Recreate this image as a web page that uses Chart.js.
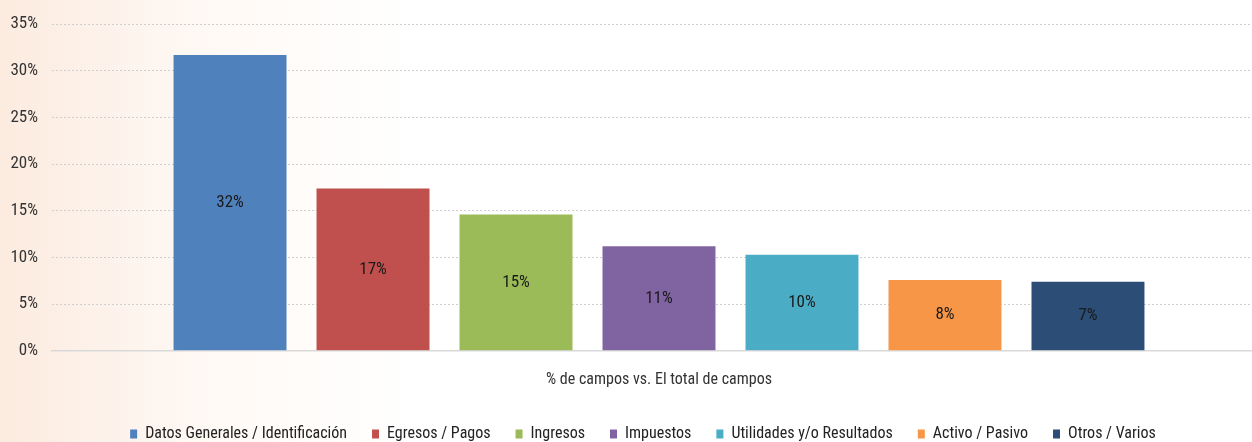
<!DOCTYPE html>
<html>
<head>
<meta charset="utf-8">
<script src="https://cdn.jsdelivr.net/npm/chart.js@4/dist/chart.umd.min.js"></script>
<style>
  html, body { margin: 0; padding: 0; overflow: hidden; }
  body { width: 1252px; height: 442px; background: linear-gradient(to right, #fcebdf 0px, #fdf3ec 120px, #fffaf6 220px, #ffffff 420px); }
  #wrap { position: relative; width: 1266px; height: 452px; }
</style>
</head>
<body>
<div id="wrap"><canvas id="chart"></canvas></div>
<script>
// Share of fields per group, measured against the total number of fields
const categories = ['% de campos vs. El total de campos'];
const groups = [
  'Datos Generales / Identificación',
  'Egresos / Pagos',
  'Ingresos',
  'Impuestos',
  'Utilidades y/o Resultados',
  'Activo / Pasivo',
  'Otros / Varios'
];
const shares = [31.7, 17.4, 14.6, 11.2, 10.3, 7.6, 7.4];
const colors = ['#4f81bd', '#c0504d', '#9bbb59', '#8064a2', '#4bacc6', '#f79646', '#2c4d75'];
const yTicks = [0, 5, 10, 15, 20, 25, 30, 35];

const FONT = '"Roboto Condensed", "Liberation Sans Narrow", sans-serif';

// Percentage written in the middle of each bar
const barLabels = {
  id: 'barLabels',
  afterDatasetsDraw(chart) {
    const ctx = chart.ctx;
    ctx.save();
    ctx.font = '17px ' + FONT;
    ctx.fillStyle = '#1a1a1a';
    ctx.textAlign = 'center';
    ctx.textBaseline = 'middle';
    chart.data.datasets.forEach((ds, i) => {
      const meta = chart.getDatasetMeta(i);
      meta.data.forEach((bar, j) => {
        const v = ds.data[j];
        ctx.fillText(Math.round(v) + '%', bar.x, (bar.y + bar.base) / 2);
      });
    });
    ctx.restore();
  }
};

// Nudge the legend row a little to the right of the canvas centre
const legendShift = {
  id: 'legendShift',
  afterLayout(chart) {
    if (chart.legend) {
      chart.legend.left += 10;
      chart.legend.right += 10;
    }
  }
};

new Chart(document.getElementById('chart'), {
  type: 'bar',
  data: {
    labels: categories,
    datasets: groups.map((g, i) => ({
      label: g,
      data: [shares[i]],
      backgroundColor: colors[i],
      borderWidth: 0,
      categoryPercentage: 0.8245,
      barPercentage: 0.79
    }))
  },
  options: {
    responsive: true,
    maintainAspectRatio: false,
    animation: false,
    layout: { padding: { top: 14, left: 0, right: 0, bottom: 0 } },
    scales: {
      x: {
        grid: { display: false, drawTicks: false },
        border: { display: true, color: '#d9d9d9', width: 1.5 },
        ticks: { color: '#333', font: { family: FONT, size: 16 }, padding: 20 },
        afterFit(scale) { scale.height -= 9; }
      },
      y: {
        min: 0,
        max: 35,
        afterBuildTicks(axis) { axis.ticks = yTicks.map(v => ({ value: v })); },
        afterFit(scale) { scale.width = 52; },
        grid: { color: '#cfcfcf', lineWidth: 1, drawTicks: false },
        border: { display: false, dash: [2, 2] },
        ticks: {
          color: '#333',
          font: { family: FONT, size: 17 },
          padding: 14,
          callback: v => v + '%'
        }
      }
    },
    plugins: {
      legend: {
        position: 'bottom',
        labels: {
          color: '#222',
          font: { family: FONT, size: 16 },
          boxWidth: 7,
          boxHeight: 9,
          padding: 25
        }
      },
      tooltip: { enabled: false }
    }
  },
  plugins: [barLabels, legendShift]
});
</script>
</body>
</html>
